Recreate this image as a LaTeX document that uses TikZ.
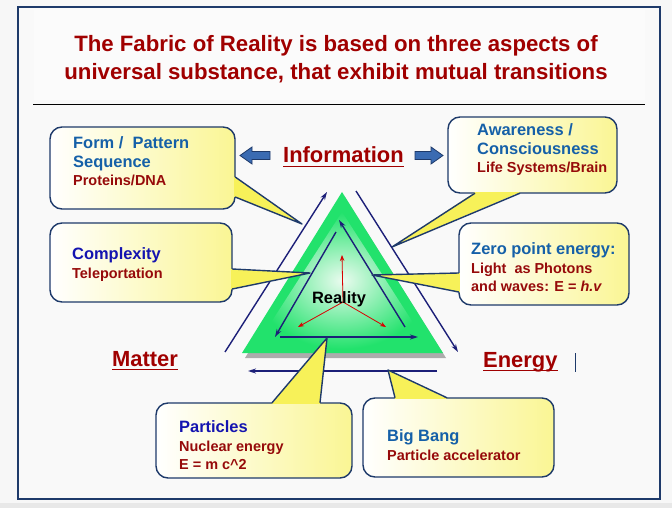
\documentclass[tikz,border=0pt]{standalone}
\usepackage{fontspec}
\setmainfont{Liberation Sans}
\definecolor{frameblue}{HTML}{1E3A6A}
\definecolor{titlered}{HTML}{A00000}
\definecolor{subred}{HTML}{960A0A}
\definecolor{boxblue}{HTML}{1560A8}
\definecolor{pureblue}{HTML}{1414B0}
\definecolor{navy}{HTML}{1C1F78}
\definecolor{trigreen}{HTML}{22E26C}
\definecolor{palegreen}{HTML}{EAFBEF}
\definecolor{blockblue}{HTML}{3A6BB2}
\definecolor{glow}{HTML}{F6EE3C}
\usetikzlibrary{arrows.meta}

\newcommand\redline[1]{{\color{subred}\fontsize{14.5}{19}\selectfont #1}}

\begin{document}
\begin{tikzpicture}[x=1bp,y=-1bp,>=Stealth,
  every node/.style={inner sep=0pt},
  cbox/.style={draw=frameblue,line width=1.4bp,rounded corners=12bp,left color=white,middle color=white,right color=glow!55},
  ptr/.style={fill=glow!85},
  ptrline/.style={draw=frameblue,line width=1.4bp,line join=round},
  btxt/.style={anchor=north west,align=left,text=boxblue,font=\fontsize{16.5}{19}\selectfont\bfseries},
  corner/.style={anchor=base west,text=titlered,font=\fontsize{22}{24}\selectfont\bfseries},
  cyc/.style={navy,line width=1.4bp,-{Stealth[length=8bp,width=5bp]}},
  core/.style={red!85!black,line width=0.8bp,-{Stealth[length=6bp,width=4.5bp]}}]
\useasboundingbox (0,0) rectangle (672,508);
% page and frame
\fill[gray!6] (0,0) rectangle (672,508);
\fill[gray!18] (0,503) rectangle (672,508);
\draw[frameblue,line width=2bp,fill=gray!5] (18,7) rectangle (660,499);
\fill[gray!3] (34,10) rectangle (645,100);
\node[anchor=north,align=center,text=titlered,font=\fontsize{22.3}{28}\selectfont\bfseries] (title) at (336,35.5)
  {The Fabric of Reality is based on three aspects of\\universal substance, that exhibit mutual transitions};
\draw[black,line width=1bp] (33,105) -- (645,105);

% the triangle
\coordinate (apex) at (342,192);
\coordinate (bl) at (242,353);
\coordinate (br) at (443,353);
\fill[gray!65] ([shift={(3,5)}]apex) -- ([shift={(3,5)}]bl) -- ([shift={(3,5)}]br) -- cycle;
\fill[trigreen] (apex) -- (bl) -- (br) -- cycle;
\shade[inner color=palegreen,outer color=trigreen] (342,212) -- (254,349) -- (430,349) -- cycle;

% inner cycle
\coordinate (il1) at (336,232);
\coordinate (il2) at (275,337);
\coordinate (ib1) at (280,337);
\coordinate (ib2) at (418,337);
\coordinate (ir1) at (405,327);
\coordinate (ir2) at (339,220);
\draw[cyc] (il1) -- (il2);
\draw[cyc] (ib1) -- (ib2);
\draw[cyc] (ir1) -- (ir2);
% outer cycle
\coordinate (ol1) at (225,352);
\coordinate (ol2) at (327,192);
\coordinate (or1) at (356,191);
\coordinate (or2) at (458,352);
\coordinate (ob1) at (437,371);
\coordinate (ob2) at (248,371);
\draw[cyc] (ol1) -- (ol2);
\draw[cyc] (or1) -- (or2);
\draw[cyc] (ob1) -- (ob2);

% centre
\coordinate (core) at (343,302);
\coordinate (cu) at (342,255);
\coordinate (cl) at (298,327);
\coordinate (cr) at (386,327);
\draw[core] (core) -- (cu);
\draw[core] (core) -- (cl);
\draw[core] (core) -- (cr);
\node[anchor=base,font=\fontsize{16.5}{19}\selectfont\bfseries] (reality) at (339,303) {Reality};

% corners
\node[corner] (info) at (283,163) {Information};
\node[corner] (matter) at (112,366) {Matter};
\node[corner] (energy) at (483,367) {Energy};
\draw[titlered,line width=1.6bp] ([yshift=-3.5bp]info.base west) -- ([yshift=-3.5bp]info.base east);
\draw[titlered,line width=1.6bp] ([yshift=-3.5bp]matter.base west) -- ([yshift=-3.5bp]matter.base east);
\draw[titlered,line width=1.6bp] ([yshift=-3.5bp]energy.base west) -- ([yshift=-3.5bp]energy.base east);
\draw[frameblue,line width=1bp] (575,353) -- (575,372);
\filldraw[fill=blockblue,draw=frameblue,line width=0.8bp]
  (240,155.5) -- (252,147) -- (252,151.5) -- (270,151.5) -- (270,159.5) -- (252,159.5) -- (252,164) -- cycle;
\filldraw[fill=blockblue,draw=frameblue,line width=0.8bp]
  (443,155.5) -- (431,147) -- (431,151.5) -- (415,151.5) -- (415,159.5) -- (431,159.5) -- (431,164) -- cycle;

% callouts
\node[cbox,minimum width=185bp,minimum height=82bp] (form) at (142.5,168) {};
\coordinate (formtip) at (302,224);
\fill[ptr] ([shift={(-1.5,9)}]form.east) -- (formtip) -- ([shift={(-1.5,29)}]form.east) -- cycle;
\draw[ptrline] ([shift={(-0.5,9)}]form.east) -- (formtip) -- ([shift={(-0.5,29)}]form.east);
\node[btxt] (formtxt) at (73,136) {Form /\ \ Pattern\\Sequence\\\redline{Proteins/DNA}};

\node[cbox,minimum width=182bp,minimum height=79bp] (cplx) at (141,262.5) {};
\coordinate (cplxtip) at (310,273);
\fill[ptr] ([shift={(-1.5,6.5)}]cplx.east) -- (cplxtip) -- ([shift={(-1.5,26.5)}]cplx.east) -- cycle;
\draw[ptrline] ([shift={(-0.5,6.5)}]cplx.east) -- (cplxtip) -- ([shift={(-0.5,26.5)}]cplx.east);
\node[btxt,text=pureblue] (cplxtxt) at (72,247) {Complexity\\\redline{Teleportation}};

\node[cbox,minimum width=169bp,minimum height=76bp] (aware) at (532.5,155) {};
\coordinate (awaretip) at (392,247);
\fill[ptr] ([shift={(-57.5,-1.5)}]aware.south) -- (awaretip) -- ([shift={(-12.5,-1.5)}]aware.south) -- cycle;
\draw[ptrline] ([shift={(-57.5,-0.5)}]aware.south) -- (awaretip) -- ([shift={(-12.5,-0.5)}]aware.south);
\node[btxt] (awaretxt) at (477,123) {Awareness /\\Consciousness\\\redline{Life Systems/Brain}};

\node[cbox,minimum width=170bp,minimum height=82bp] (zero) at (544,264) {};
\coordinate (zerotip) at (372,275);
\fill[ptr] ([shift={(1.5,9)}]zero.west) -- (zerotip) -- ([shift={(1.5,28)}]zero.west) -- cycle;
\draw[ptrline] ([shift={(0.5,9)}]zero.west) -- (zerotip) -- ([shift={(0.5,28)}]zero.west);
\node[btxt] (zerotxt) at (471,242) {Zero point energy:\\\redline{Light\ \ as Photons}\\\redline{and waves: E = \textit{h.v}}};

\node[cbox,minimum width=196bp,minimum height=75bp] (part) at (254,440.5) {};
\coordinate (parttip) at (327,338);
\fill[ptr] ([shift={(18,1.5)}]part.north) -- (parttip) -- ([shift={(66,1.5)}]part.north) -- cycle;
\draw[ptrline] ([shift={(18,0.5)}]part.north) -- (parttip) -- ([shift={(66,0.5)}]part.north);
\node[btxt,text=pureblue] (parttxt) at (179,420) {Particles\\\redline{Nuclear energy}\\\redline{E = m c\textasciicircum 2}};

\node[cbox,minimum width=191bp,minimum height=79bp] (bang) at (458.5,437.5) {};
\coordinate (bangtip) at (388,370);
\fill[ptr] ([shift={(-63.5,1.5)}]bang.north) -- (bangtip) -- ([shift={(-11.5,1.5)}]bang.north) -- cycle;
\draw[ptrline] ([shift={(-63.5,0.5)}]bang.north) -- (bangtip) -- ([shift={(-11.5,0.5)}]bang.north);
\node[btxt] (bangtxt) at (387,429) {Big Bang\\\redline{Particle accelerator}};
\end{tikzpicture}
\end{document}
